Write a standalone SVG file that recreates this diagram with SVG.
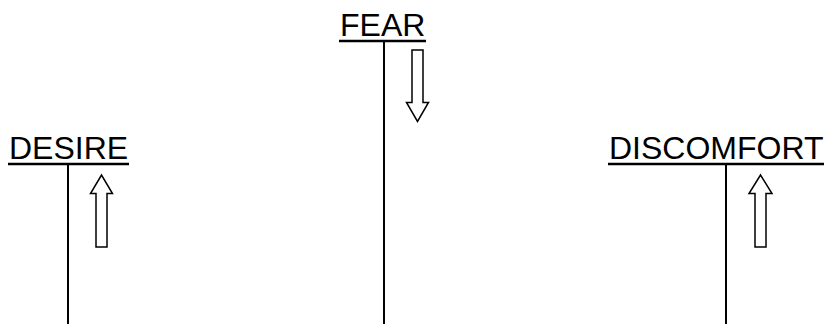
<svg xmlns="http://www.w3.org/2000/svg" width="831" height="324" viewBox="0 0 831 324">
<defs>
<style>
.lbl{font-family:"Liberation Sans",Arial,sans-serif;font-size:32px;fill:#000}
.ul{stroke:#000;stroke-width:2.5}
.stem{stroke:#000;stroke-width:2}
.arr{fill:#fff;stroke:#000;stroke-width:1.5;stroke-linejoin:miter}
</style>
</defs>
<rect width="831" height="324" fill="#fff"/>
<g id="desire">
<text class="lbl" x="9" y="159">DESIRE</text>
<line class="ul" x1="8" y1="164" x2="129" y2="164"/>
</g>
<g id="fear">
<text class="lbl" x="340" y="36">FEAR</text>
<line class="ul" x1="339" y1="41" x2="426" y2="41"/>
</g>
<g id="discomfort">
<text class="lbl" x="609" y="159">DISCOMFORT</text>
<line class="ul" x1="608" y1="164" x2="824" y2="164"/>
</g>
<g id="connectors">
<line class="stem" x1="68" y1="165" x2="68" y2="324"/>
<line class="stem" x1="384" y1="42" x2="384" y2="324"/>
<line class="stem" x1="726" y1="165" x2="726" y2="324"/>
<path class="arr" d="M96,247 L96,193.5 L90.5,193.5 L101.5,175 L112.5,193.5 L107,193.5 L107,247 Z"/>
<path class="arr" d="M412,50 L412,102.5 L406.5,102.5 L417.5,121.5 L428.5,102.5 L423,102.5 L423,50 Z"/>
<path class="arr" d="M755,247 L755,193.5 L749,193.5 L760.5,175 L772,193.5 L766,193.5 L766,247 Z"/>
</g>
</svg>
